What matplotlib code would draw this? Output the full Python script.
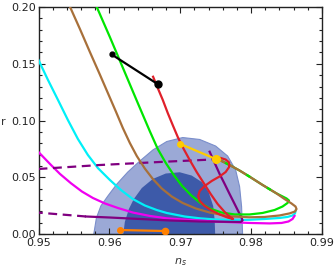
import matplotlib
matplotlib.use("Agg")
import matplotlib.pyplot as plt
from matplotlib.ticker import MultipleLocator

# ---- data (ns, r) ----
outer_ns = [0.9578, 0.95817, 0.9588, 0.95979, 0.96106, 0.9626, 0.9643, 0.96613, 0.9681,
            0.97035, 0.97275, 0.9750, 0.97669, 0.97782, 0.97838, 0.97866, 0.9788]
outer_r = [0.0, 0.0141, 0.0247, 0.0335, 0.0440, 0.0546, 0.0643, 0.0740, 0.0815,
           0.0850, 0.0833, 0.0775, 0.0687, 0.0564, 0.0417, 0.0240, 0.0]

inner_ns = [0.96197, 0.96218, 0.96275, 0.96345, 0.96458, 0.96613, 0.96796, 0.96993,
            0.97162, 0.97303, 0.97401, 0.97465, 0.97486, 0.97493]
inner_r = [0.0, 0.0106, 0.0220, 0.0308, 0.0405, 0.0485, 0.0533, 0.0544,
           0.0515, 0.0458, 0.0370, 0.0247, 0.0123, 0.0]

cyan_ns = [0.95000, 0.95134, 0.95275, 0.95415, 0.95556, 0.95697, 0.95838, 0.96007,
           0.96162, 0.96331, 0.96500, 0.96669, 0.96810, 0.97063, 0.97275, 0.97486,
           0.97697, 0.97979, 0.98190, 0.98401, 0.98514, 0.98585, 0.98620, 0.98627]
cyan_r = [0.1533, 0.1357, 0.1181, 0.1004, 0.0837, 0.0696, 0.0581, 0.0476,
          0.0388, 0.0308, 0.0251, 0.0211, 0.0185, 0.0154, 0.0138, 0.0128,
          0.0123, 0.0125, 0.0132, 0.0141, 0.0150, 0.0163, 0.0181, 0.0203]

magenta_ns = [0.95000, 0.95162, 0.95303, 0.95458, 0.95613, 0.95768, 0.95937, 0.96120,
              0.96331, 0.96570, 0.96810, 0.97134, 0.97556, 0.97979, 0.98261, 0.98430,
              0.98528, 0.98585, 0.98613]
magenta_r = [0.0722, 0.0617, 0.0529, 0.0447, 0.0374, 0.0317, 0.0269, 0.0229,
             0.0189, 0.0159, 0.0138, 0.0123, 0.0108, 0.0097, 0.0093, 0.0097,
             0.0110, 0.0132, 0.0159]

brown_ns = [0.95430, 0.95585, 0.95725, 0.95866, 0.95979, 0.96092, 0.96190, 0.96289,
            0.96387, 0.96500, 0.96613, 0.96739, 0.96880, 0.97035, 0.97218, 0.97415,
            0.97697, 0.97979, 0.98190, 0.98401, 0.98542, 0.98620, 0.98641, 0.98627,
            0.98570, 0.98472, 0.98355, 0.98162, 0.97979, 0.97838, 0.97697, 0.97585,
            0.97510]
brown_r = [0.2022, 0.1806, 0.1604, 0.1405, 0.1242, 0.1079, 0.0934, 0.0802,
           0.0687, 0.0577, 0.0485, 0.0401, 0.0330, 0.0273, 0.0225, 0.0189,
           0.0156, 0.0147, 0.0150, 0.0163, 0.0181, 0.0198, 0.0220, 0.0242,
           0.0269, 0.0308, 0.0359, 0.0432, 0.0505, 0.0559, 0.0608, 0.0643,
           0.0658]

green_ns = [0.95810, 0.96007, 0.96204, 0.96401, 0.96570, 0.96683, 0.96796, 0.96908,
            0.97021, 0.97148, 0.97275, 0.97415, 0.97585, 0.97768, 0.97979, 0.98162,
            0.98331, 0.98444, 0.98514, 0.98535, 0.98500, 0.98355, 0.98162, 0.97979,
            0.97838, 0.97697, 0.97585, 0.97510]
green_r = [0.2018, 0.1736, 0.1445, 0.1154, 0.0907, 0.0749, 0.0626, 0.0520,
           0.0427, 0.0344, 0.0278, 0.0225, 0.0189, 0.0172, 0.0172, 0.0185,
           0.0211, 0.0242, 0.0273, 0.0295, 0.0313, 0.0359, 0.0432, 0.0505,
           0.0559, 0.0608, 0.0643, 0.0658]
green_return_ns = [0.98500, 0.98355, 0.98162, 0.97979, 0.97838, 0.97697, 0.97585, 0.97510]
green_return_r = [0.0313, 0.0359, 0.0432, 0.0505, 0.0559, 0.0608, 0.0643, 0.0658]

red_ns = [0.96617, 0.96683, 0.96754, 0.96824, 0.96894, 0.96965, 0.97049, 0.97134,
          0.97232, 0.97331, 0.97430, 0.97528, 0.97627, 0.97697, 0.97746, 0.97669,
          0.97556, 0.97444, 0.97345, 0.97275, 0.97254, 0.97275, 0.97345, 0.97444,
          0.97556, 0.97641, 0.97690, 0.97690, 0.97641, 0.97570, 0.97510]
red_r = [0.1386, 0.1286, 0.1181, 0.1066, 0.0960, 0.0855, 0.0749, 0.0652,
         0.0546, 0.0449, 0.0352, 0.0264, 0.0194, 0.0154, 0.0132, 0.0145,
         0.0172, 0.0207, 0.0247, 0.0291, 0.0335, 0.0379, 0.0423, 0.0467,
         0.0507, 0.0546, 0.0590, 0.0630, 0.0656, 0.0670, 0.0672]

purple_dash_top_ns = [0.9500, 0.9587, 0.9679, 0.9751]
purple_dash_top_r = [0.0573, 0.0608, 0.0637, 0.0658]

purple_solid_ns = [0.97415, 0.97486, 0.97556, 0.97627, 0.97697, 0.97768, 0.97824,
                   0.97862, 0.97880, 0.97852, 0.97697, 0.97275, 0.96852, 0.96430,
                   0.96007, 0.95669]
purple_solid_r = [0.0725, 0.0626, 0.0529, 0.0441, 0.0352, 0.0264, 0.0194,
                  0.0150, 0.0119, 0.0106, 0.0107, 0.0110, 0.0119, 0.0132,
                  0.0145, 0.0154]
purple_dash_low_ns = [0.95669, 0.9500]
purple_dash_low_r = [0.0154, 0.0188]

black_ns = [0.96031, 0.96687]
black_r = [0.1583, 0.1319]
yellow_ns = [0.97003, 0.97510]
yellow_r = [0.0793, 0.0658]
orange_ns = [0.96148, 0.96782]
orange_r = [0.0035, 0.0026]

# ---- figure ----
fig = plt.figure(figsize=(3.35, 2.73), dpi=100)
ax = fig.add_axes([0.115, 0.143, 0.846, 0.831])

ax.fill(outer_ns, outer_r, facecolor='#9ba9d6', edgecolor='#7a8ecb', lw=0.8, zorder=1)
ax.fill(inner_ns, inner_r, facecolor='#3d5aa9', edgecolor='none', zorder=2)

lw = 1.6
ax.plot(cyan_ns, cyan_r, color='#00f0f8', lw=lw, zorder=3)
ax.plot(magenta_ns, magenta_r, color='#f000f0', lw=lw, zorder=3)
ax.plot(purple_solid_ns, purple_solid_r, color='#800080', lw=lw, zorder=4)
ax.plot(purple_dash_low_ns, purple_dash_low_r, color='#800080', lw=lw, ls=(0, (4, 2.5)), zorder=4)
ax.plot(purple_dash_top_ns, purple_dash_top_r, color='#800080', lw=lw, ls=(0, (4, 2.5)), zorder=4)
ax.plot(green_ns, green_r, color='#00e600', lw=lw, zorder=4)
ax.plot(brown_ns, brown_r, color='#a8703a', lw=lw, zorder=5)
ax.plot(green_return_ns, green_return_r, color='#00e600', lw=lw, ls=(3, (2, 9)), zorder=6)
ax.plot(red_ns, red_r, color='#e0202a', lw=lw, zorder=6)

ax.plot(black_ns, black_r, color='black', lw=lw, zorder=7)
ax.plot(black_ns[0], black_r[0], 'o', color='black', ms=3.5, zorder=8)
ax.plot(black_ns[1], black_r[1], 'o', color='black', ms=5, zorder=8)
ax.plot(yellow_ns, yellow_r, color='#ffcc00', lw=lw, zorder=7)
ax.plot(yellow_ns[0], yellow_r[0], 'o', color='#ffcc00', ms=4, zorder=8)
ax.plot(yellow_ns[1], yellow_r[1], 'o', color='#ffcc00', ms=5.5, zorder=8)
ax.plot(orange_ns, orange_r, color='#ff8000', lw=lw, zorder=7)
ax.plot(orange_ns[0], orange_r[0], 'o', color='#ff8000', ms=4, zorder=8)
ax.plot(orange_ns[1], orange_r[1], 'o', color='#ff8000', ms=4.5, zorder=8)

ax.set_xlim(0.95, 0.99)
ax.set_ylim(0.0, 0.20)
ax.xaxis.set_major_locator(MultipleLocator(0.01))
ax.xaxis.set_minor_locator(MultipleLocator(0.002))
ax.yaxis.set_major_locator(MultipleLocator(0.05))
ax.yaxis.set_minor_locator(MultipleLocator(0.01))
ax.xaxis.set_major_formatter(plt.FuncFormatter(lambda v, p: f"{v:.2f}"))
ax.yaxis.set_major_formatter(plt.FuncFormatter(lambda v, p: f"{v:.2f}"))
ax.tick_params(which='both', direction='in', top=True, right=True, colors='#222222',
               labelsize=8, width=0.8)
ax.tick_params(axis='x', which='major', length=4, pad=3)
ax.tick_params(axis='y', which='major', length=4, pad=2)
ax.tick_params(which='minor', length=2)
for s in ax.spines.values():
    s.set_linewidth(1.0)
    s.set_color('#222222')

ax.set_xlabel('$n_s$', fontsize=8, color='#333333', labelpad=6)
ax.set_ylabel('r', fontsize=8, color='#333333', rotation=0)
ax.yaxis.set_label_coords(-0.125, 0.47)

fig.savefig('out.png', dpi=100)
